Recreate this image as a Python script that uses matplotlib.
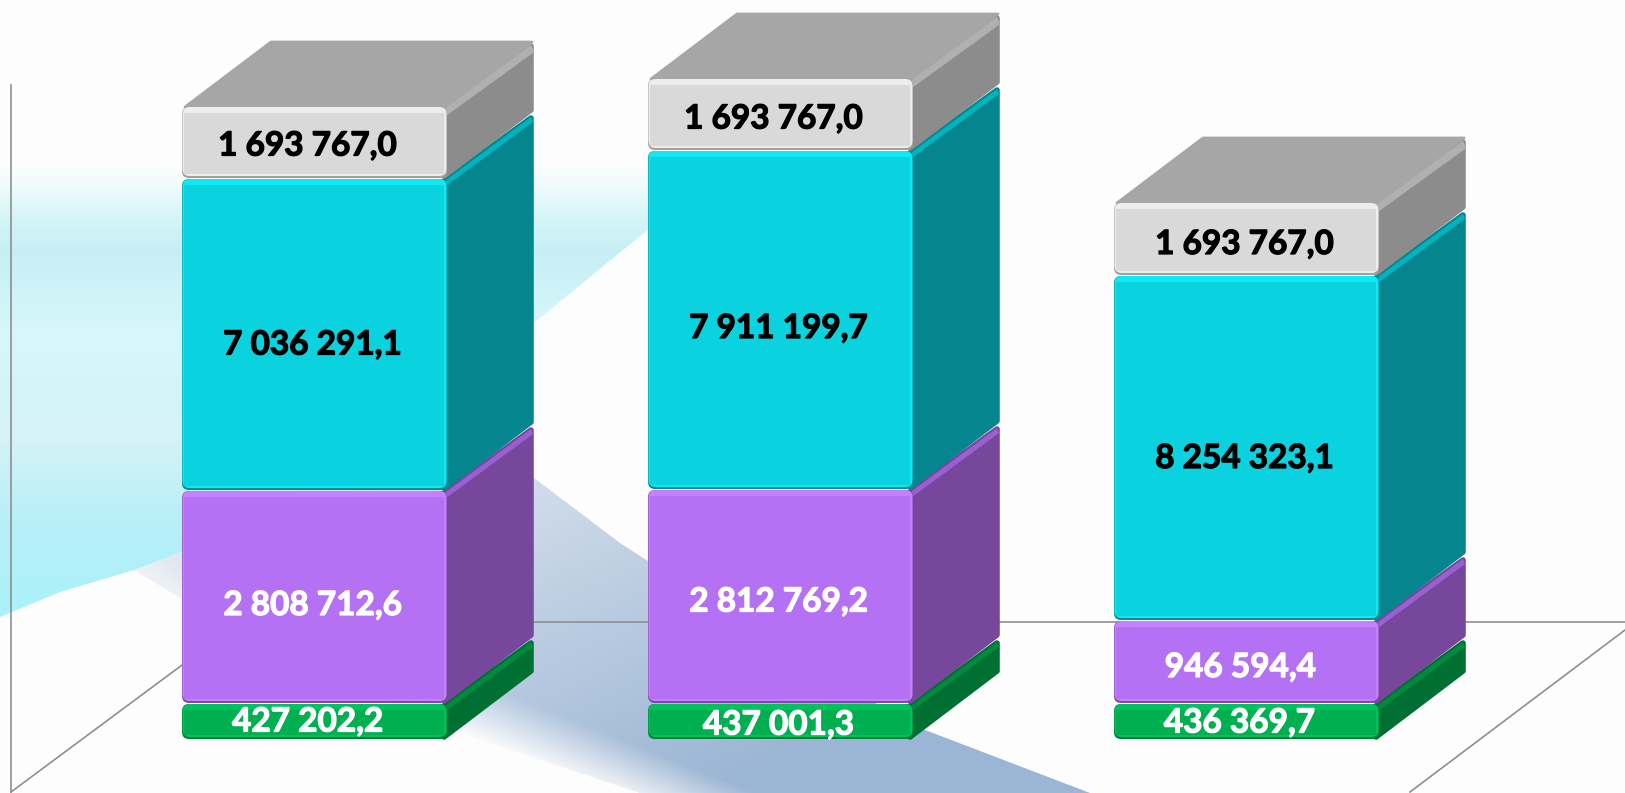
import numpy as np
import matplotlib
matplotlib.use("Agg")
import matplotlib.pyplot as plt
import matplotlib.patheffects as pe
from matplotlib.patches import FancyBboxPatch, Polygon, Rectangle

# Printed values per period (bottom to top of each stack)
green_labels = ["427 202,2", "437 001,3", "436 369,7"]
purple_labels = ["2 808 712,6", "2 812 769,2", "946 594,4"]
cyan_labels = ["7 036 291,1", "7 911 199,7", "8 254 323,1"]
grey_labels = ["1 693 767,0", "1 693 767,0", "1 693 767,0"]

# Drawn segment heights (the source scale is not proportional)
green_heights = [36, 36, 36]
purple_heights = [213, 214, 83]
cyan_heights = [312, 339, 345]
grey_heights = [72, 72, 73]

# Layout
W, H, BASE = 1625, 793, 740
bar_left = [182, 648, 1114]
BAR_W, DX, DY = 265, 87, 66

palette = {
    "green": dict(front="#00b050", side="#006f32", hi="#00c25a", band="#008a40", low="#007a38"),
    "purple": dict(front="#b571f3", side="#76479a", hi="#c67ffd", band="#9a60d2", low="#7e4aa8"),
    "cyan": dict(front="#0ad3df", side="#05858d", hi="#0ee9f6", band="#00b4bf", low="#058a92"),
    "grey": dict(front="#d9d9d9", side="#8c8c8c", hi="#ededed", band="#b4b4b4", low="#a0a0a0"),
}
# label centre offset from segment centre: (dx from front centre, dy upwards)
green_off = [(-7, 0), (-2, -3), (-7, -1)]
purple_off = [(-2, -8), (-2, -5), (-6, -5)]
cyan_off = [(-2, -10), (-2, -8), (-2, -10)]
grey_off = [(-7, -3), (-7, -4), (-2, -5)]

plt.rcParams["font.family"] = ["Lato", "DejaVu Sans"]
fig = plt.figure(figsize=(W / 100, H / 100), dpi=100)
ax = fig.add_axes([0, 0, 1, 1])
ax.set_xlim(0, W)
ax.set_ylim(BASE - H, BASE)
ax.axis("off")
fig.patch.set_facecolor("white")


def Y(py):
    return BASE - py


def pts(seq):
    return [(x, Y(y)) for x, y in seq]


# ---------- background -----------
yy, xx = np.mgrid[0:H, 0:W]
xx = xx.astype(float)
yy = yy.astype(float)


def hexrgb(h):
    return np.array(matplotlib.colors.to_rgb(h))


def clipped_image(rgba, outline, z=0):
    im = ax.imshow(rgba, extent=(0, W, BASE - H, BASE), aspect="auto", zorder=z, interpolation="bilinear")
    patch = Polygon(pts(outline), closed=True, transform=ax.transData, fc="none", ec="none")
    ax.add_patch(patch)
    im.set_clip_path(patch)
    return im


ax.add_patch(Rectangle((0, BASE - H), W, H, fc="#fdfdfd", ec="none", zorder=-1))

# pale cyan sweep, top-left
c1 = np.zeros((H, W, 4))
stops_y = [165, 185, 215, 250, 330, 440, 520, 620]
stops_c = ["#fdfdfd", "#f0fbfc", "#d8f5f8", "#c6eff5", "#d6f7fb", "#d4f2f8", "#b8eff7", "#a9f2fb"]
for i in range(3):
    c1[..., i] = np.interp(yy, stops_y, [hexrgb(s)[i] for s in stops_c])
c1[..., 3] = 1
clipped_image(c1, [(0, 165), (690, 165), (650, 228), (535, 322), (447, 392), (182, 552),
                   (134, 570), (60, 592), (0, 617)], z=0)

# blue-grey sweep, left to bottom right
c2 = np.zeros((H, W, 4))
t = np.clip((xx - 300) / 1100 + (yy - 480) / 500, 0, 1)
ca, cb = hexrgb("#dfe7f0"), hexrgb("#9bb5d4")
for i in range(3):
    c2[..., i] = ca[i] + (cb[i] - ca[i]) * t
# soft fade towards the lower-left edge of the sweep
edge_y = 640 + (xx - 300) * 0.40
c2[..., 3] = np.clip((edge_y + 30 - yy) / 60, 0, 1) * np.clip(0.55 + xx / 500, 0, 1)
verts = [(0, 503), (60, 535), (134, 570), (182, 552), (330, 395), (447, 392), (534, 478), (620, 543), (770, 640),
         (912, 725), (1090, 793), (640, 793), (450, 730), (250, 640), (134, 570), (60, 535), (0, 503)]
clipped_image(c2, verts, z=0.5)

# floor / wall lines
lc = "#8f8f8f"
ax.plot([11, 11], [Y(85), Y(792)], color=lc, lw=1.2, zorder=1)
ax.plot([11, 240], [Y(792), Y(622)], color=lc, lw=1.2, zorder=1)
ax.plot([240, W], [Y(622), Y(622)], color=lc, lw=1.2, zorder=1)
ax.plot([1410, W], [Y(792), Y(630)], color=lc, lw=1.2, zorder=1)


# ---------- bars -----------
def segment(x, bottom, height, c, z, with_top=False):
    top = bottom + height
    x2 = x + BAR_W
    # side face
    ax.add_patch(Polygon([(x2 - 3, bottom + 3), (x2 - 3, top - 2), (x2 + DX - 3, top + DY - 5),
                          (x2 + DX - 3, bottom + DY + 3)],
                         closed=True, fc=c["side"], ec=c["side"], lw=4, joinstyle="round", zorder=z))
    # light band along the upper side edge
    ax.add_patch(Polygon([(x2 - 1, top - 1), (x2 + DX - 3, top + DY - 4), (x2 + DX - 1, top + DY - 9),
                          (x2 - 1, top - 7)],
                         closed=True, fc=c["band"], ec="none", zorder=z + 0.1))
    if with_top:
        ax.add_patch(Polygon([(x + 3, top), (x + DX + 2, top + DY - 1), (x2 + DX - 2, top + DY - 1),
                              (x2 - 1, top - 1)],
                             closed=True, fc="#a6a6a6", ec="#a6a6a6", lw=2, joinstyle="round", zorder=z))
        ax.add_patch(Polygon([(x2 - 3, top - 3), (x2 + DX - 5, top + DY - 6), (x2 + DX - 1, top + DY - 8),
                              (x2 + DX - 1, top + DY - 12), (x2 - 1, top - 9)],
                             closed=True, fc="#b0b0b0", ec="none", zorder=z + 0.1))
    # front face
    ax.add_patch(FancyBboxPatch((x, bottom + 1), BAR_W, height - 1, boxstyle="round,pad=0,rounding_size=7",
                                fc=c["low"], ec="none", zorder=z + 0.2))
    ax.add_patch(FancyBboxPatch((x + 0.5, bottom + 3), BAR_W - 1, height - 3, boxstyle="round,pad=0,rounding_size=7",
                                fc=c["hi"], ec="none", zorder=z + 0.3))
    ax.add_patch(Rectangle((x + 2, bottom + 5), BAR_W - 5, height - 11, fc=c["front"], ec="none", zorder=z + 0.4))


series = [("green", green_heights, green_labels, green_off, "white"),
          ("purple", purple_heights, purple_labels, purple_off, "white"),
          ("cyan", cyan_heights, cyan_labels, cyan_off, "black"),
          ("grey", grey_heights, grey_labels, grey_off, "black")]

for b, x in enumerate(bar_left):
    bottom = 0
    for s, (name, heights, labels, offs, tc) in enumerate(series):
        h = heights[b]
        segment(x, bottom, h, palette[name], z=2 + s, with_top=(name == "grey"))
        ax.text(x + BAR_W / 2 + offs[b][0], bottom + h / 2 + offs[b][1], labels[b], color=tc,
                fontsize=24, fontweight="bold", ha="center", va="center", zorder=9,
                path_effects=[pe.withStroke(linewidth=0.9, foreground=tc)])
        bottom += h

fig.savefig("out.png", dpi=100)
